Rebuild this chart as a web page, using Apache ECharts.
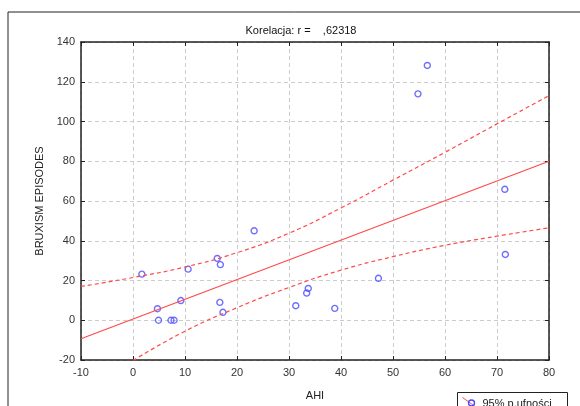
<!DOCTYPE html>
<html><head><meta charset="utf-8">
<script src="https://cdn.jsdelivr.net/npm/echarts@6/dist/echarts.min.js"></script>
<style>html,body{margin:0;padding:0;background:#fff}#c{width:580px;height:406px}</style>
</head><body><div id="c"></div>
<script>
// AHI vs bruxism episodes
const ahi      = [1.7, 4.7, 4.9, 7.3, 7.9, 9.2, 10.6, 16.2, 16.8, 16.7, 17.3, 23.3, 31.3, 33.4, 33.7, 38.8, 47.2, 71.6, 56.6, 54.8, 71.5];
const bruxism  = [23.2, 5.8, 0, 0, 0, 9.9, 25.7, 31.1, 28.0, 9.0, 4.0, 45.0, 7.3, 13.7, 16.0, 6.0, 21.1, 33.1, 128.2, 113.9, 65.9];
// regression line end points
const fitX     = [-10, 80];
const fitY     = [-9.3, 80];
// 95% confidence bands
const upperX   = [-10, 0, 10, 20, 30, 40, 50, 60, 70, 80];
const upperY   = [17, 21.5, 26.8, 34, 43.8, 56.5, 70.5, 84.5, 98.8, 113];
const lowerX   = [0, 10, 20, 30, 40, 50, 60, 70, 80];
const lowerY   = [-20.3, -5.5, 6.3, 16.5, 25.2, 32.0, 37.7, 42.3, 46.5];
const xTicks   = {min: -10, max: 80, interval: 10};
const yTicks   = {min: -20, max: 140, interval: 20};
const titleText = 'Korelacja: r =    ,62318';
const legendText = '95% p.ufności';

const zip = (a, b) => a.map((v, i) => [v, b[i]]);
const RED = '#ff4a4a', BLUE = '#4a4aff';
const font = 'Liberation Sans, Arial, sans-serif';
const chart = echarts.init(document.getElementById('c'), null, {renderer: 'canvas'});
const baseAxis = () => ({
  axisLine: {show: true, onZero: false, lineStyle: {color: '#222', width: 1.5}},
  axisTick: {show: true, inside: true, length: 4, lineStyle: {color: '#222'}},
});
chart.setOption({
  animation: false,
  backgroundColor: '#fff',
  title: {text: titleText, left: 296, top: 20, textAlign: 'center',
    textStyle: {fontSize: 11, fontWeight: 'normal', color: '#111', fontFamily: font}},
  grid: {left: 81, right: 31, top: 42, bottom: 40},
  xAxis: [
    Object.assign({type: 'value', min: xTicks.min, max: xTicks.max, interval: xTicks.interval,
      name: 'AHI', nameLocation: 'middle', nameGap: 30,
      nameTextStyle: {fontSize: 11, color: '#222', fontFamily: font},
      axisLabel: {fontSize: 11, color: '#333', margin: 7, fontFamily: font},
      splitLine: {show: true, lineStyle: {color: '#ccc', type: [4, 3]}}}, baseAxis()),
    Object.assign({type: 'value', position: 'top', min: xTicks.min, max: xTicks.max, interval: xTicks.interval,
      axisLabel: {show: false}, splitLine: {show: false}}, baseAxis())
  ],
  yAxis: [
    Object.assign({type: 'value', min: yTicks.min, max: yTicks.max, interval: yTicks.interval,
      name: 'BRUXISM EPISODES', nameLocation: 'middle', nameGap: 33,
      nameTextStyle: {fontSize: 11, color: '#222', fontFamily: font},
      axisLabel: {fontSize: 11, color: '#333', margin: 6, fontFamily: font},
      splitLine: {show: true, lineStyle: {color: '#ccc', type: [4, 3]}}}, baseAxis()),
    Object.assign({type: 'value', position: 'right', min: yTicks.min, max: yTicks.max, interval: yTicks.interval,
      axisLabel: {show: false}, splitLine: {show: false}}, baseAxis())
  ],
  series: [
    {type: 'line', data: zip(upperX, upperY), smooth: 0.5, symbol: 'none', clip: true,
      lineStyle: {color: RED, width: 1.2, type: [4, 3]}},
    {type: 'line', data: zip(lowerX, lowerY), smooth: 0.5, symbol: 'none', clip: true,
      lineStyle: {color: RED, width: 1.2, type: [4, 3]}},
    {type: 'line', data: zip(fitX, fitY), symbol: 'none', clip: true,
      lineStyle: {color: RED, width: 1.2}},
    {type: 'scatter', data: zip(ahi, bruxism), symbol: 'circle', symbolSize: 6,
      itemStyle: {color: 'transparent', borderColor: BLUE, borderWidth: 1.4}}
  ],
  graphic: [
    {type: 'rect', shape: {x: 8, y: 12, width: 600, height: 500}, silent: true,
      style: {fill: 'none', stroke: '#222', lineWidth: 1}},
    {type: 'group', left: 457, top: 392, children: [
      {type: 'rect', shape: {x: 0, y: 0, width: 110, height: 30},
        style: {fill: '#fff', stroke: '#222', lineWidth: 1}},
      {type: 'line', shape: {x1: 5, y1: 5, x2: 19, y2: 15}, style: {stroke: RED, lineWidth: 1}},
      {type: 'circle', shape: {cx: 14, cy: 10.5, r: 3}, style: {fill: 'none', stroke: BLUE, lineWidth: 1.4}},
      {type: 'text', x: 25, y: 6, style: {text: legendText, fontSize: 11, fill: '#222', fontFamily: font}}
    ]}
  ]
});
</script></body></html>
